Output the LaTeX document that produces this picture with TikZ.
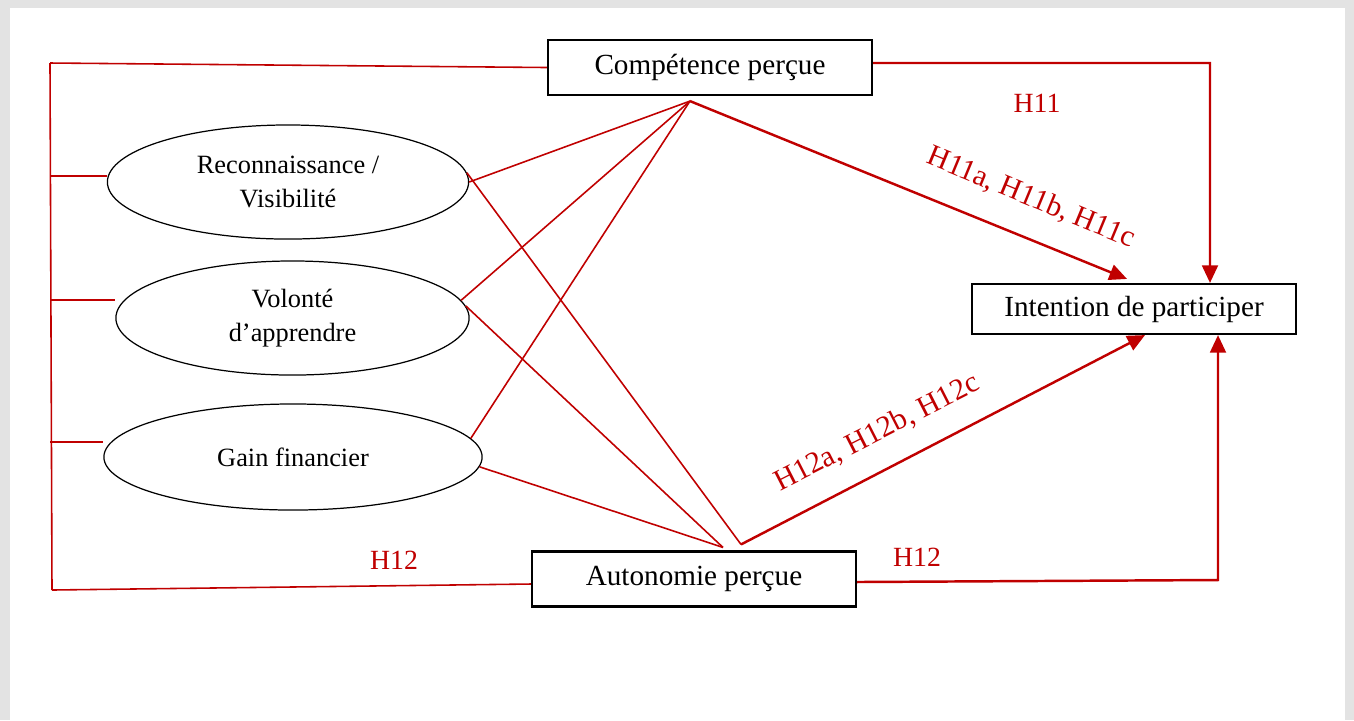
\documentclass[tikz,border=0pt]{standalone}
\usepackage{fontspec}
\setmainfont{Liberation Serif}
\usetikzlibrary{arrows.meta,shapes.geometric}
\definecolor{rouge}{RGB}{192,0,0}

\begin{document}
\begin{tikzpicture}[x=0.01cm,y=-0.01cm,
  boite/.style={draw,line width=0.6pt,minimum width=3.24cm,minimum height=0.55cm,inner sep=0pt,font=\fontsize{8.3}{10}\selectfont},
  bulle/.style={draw,ellipse,line width=0.35pt,inner sep=0pt,align=center,font=\fontsize{7.5}{9.7}\selectfont},
  lien/.style={draw=rouge,line width=0.45pt},
  fleche/.style={draw=rouge,line width=0.7pt,-{Triangle[length=5pt,width=4.5pt]},fill=none},
  hyp/.style={text=rouge,inner sep=0pt,font=\fontsize{7.9}{9}\selectfont}]
  \useasboundingbox (0,0) rectangle (1354,720);
  \fill[gray!22] (0,0) rectangle (1354,720);
  \fill[white] (10,8) rectangle (1345,720);

  \node[boite] (cp) at (710,67.5) {Compétence perçue};
  \node[boite,minimum height=0.5cm] (ip) at (1134,309) {Intention de participer};
  \node[boite] (ap) at (694,579) {Autonomie perçue};
  \node[bulle,minimum width=3.61cm,minimum height=1.14cm] (rv) at (288,182) {Reconnaissance /\\Visibilité};
  \node[bulle,minimum width=3.53cm,minimum height=1.14cm] (vo) at (292.5,318) {Volonté\\d’apprendre};
  \node[bulle,minimum width=3.78cm,minimum height=1.06cm] (gf) at (293,457) {Gain financier};

  \coordinate (hg) at (50,63);
  \coordinate (bg) at (52,590);
  \coordinate (hd) at (1210,63);
  \coordinate (bd) at (1218,580);
  \coordinate (cpb) at ([xshift=-2mm,yshift=-0.5mm]cp.south);
  \coordinate (apa) at ([xshift=2.9mm,yshift=0.3mm]ap.north);
  \coordinate (apb) at ([xshift=4.7mm,yshift=0.6mm]ap.north);

  \draw[lien] (hg) -- (bg);
  \draw[lien] (hg) -- (cp.west);
  \draw[lien] (bg) -- ([yshift=-0.5mm]ap.west);
  \foreach \y/\e in {176/rv,300/vo,442/gf}
    \draw[lien] (hg |- 0,\y) -- (\e.west |- 0,\y);

  \draw[lien] (rv.east) -- (cpb);
  \draw[lien] (vo.6) -- (cpb);
  \draw[lien] (gf.6) -- (cpb);
  \draw[lien] (rv.3) -- (apb);
  \draw[lien] (vo.4) -- (apa);
  \draw[lien] (gf.-3) -- (apa);

  \draw[fleche] (cpb) -- ([xshift=-0.7mm,yshift=0.4mm]ip.north);
  \draw[fleche] (apb) -- ([xshift=1.1mm]ip.south);
  \draw[fleche] ([yshift=0.45mm]cp.east) -- (hd) -- (hd |- ip.north);
  \draw[fleche] ([yshift=-0.3mm]ap.east) -- (bd) -- (bd |- ip.south);

  \node[hyp] (h11) at (1037,103) {H11};
  \node[hyp] (h12g) at (394,560) {H12};
  \node[hyp] (h12d) at (917,557) {H12};
  \node[hyp,rotate=-22.5,font=\fontsize{8.5}{10}\selectfont] (h11x) at (1031,198) {H11a, H11b, H11c};
  \node[hyp,rotate=27,font=\fontsize{8.5}{10}\selectfont] (h12x) at (877,433) {H12a, H12b, H12c};
\end{tikzpicture}
\end{document}
